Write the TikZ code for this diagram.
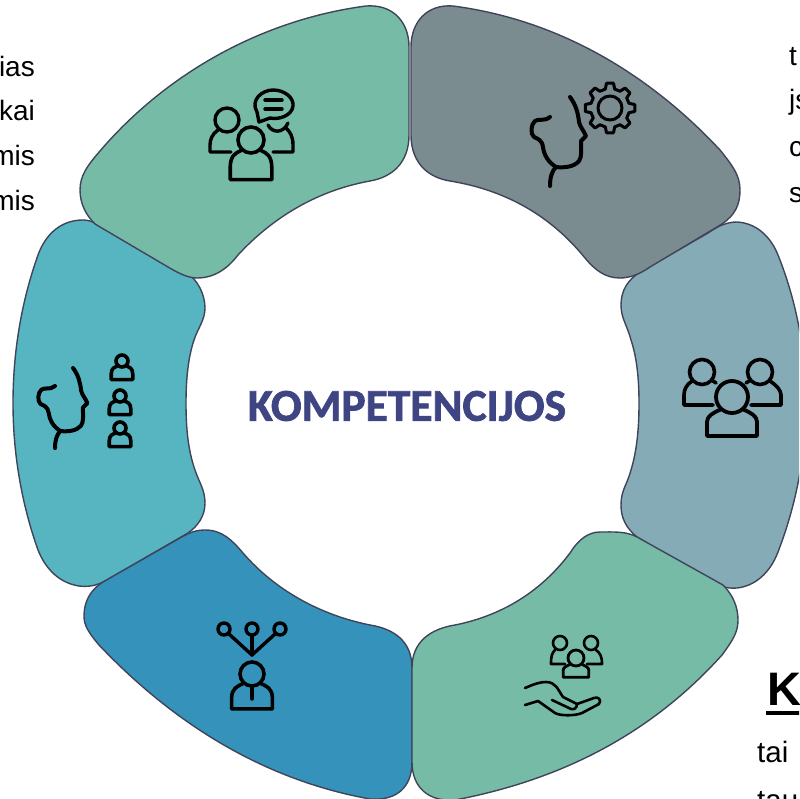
\documentclass[tikz,border=0pt]{standalone}
\usepackage{fontspec}
\setmainfont{Liberation Sans}
\newfontfamily\titlefont[BoldFeatures={FakeBold=1.6}]{Carlito}
\usepackage{tikz}
\definecolor{petalgreen}{HTML}{75BBA5}
\definecolor{petalgrey}{HTML}{7A8C90}
\definecolor{petalsteel}{HTML}{85ABB7}
\definecolor{petalblue}{HTML}{3592BA}
\definecolor{petalteal}{HTML}{57B4C1}
\definecolor{petaledge}{HTML}{40445A}
\definecolor{titleblue}{HTML}{3F4582}
\tikzset{
  petal/.style={draw=petaledge,line width=1.4pt,fill=#1},
  petal/.default=petalgreen,
  icon/.style={draw=black,line width=#1,line cap=round,line join=round},
  icon/.default=3.4pt,
  sidetext/.style={font=\fontsize{28}{28}\selectfont,inner sep=0pt,text=black},
}
% unit person: head of radius 1 at the origin, #4 half width, #5 depth of the bar
\newcommand{\personicon}[6]{
  \begin{scope}[shift={(#1,#2)},scale=#3]
    \draw[icon=#6] (0,0) circle (1);
    \draw[icon=#6] (-0.75,0.8) .. controls (-1.2,1) and (-#4,1.2) .. (-#4,#5-0.9) -- (-#4,#5) -- (#4,#5) -- (#4,#5-0.9) .. controls (#4,1.2) and (1.2,1) .. (0.75,0.8);
  \end{scope}
}
% profile of a head, drawn where the gear and the small people sit beside it
\newcommand{\headicon}[3]{
  \begin{scope}[shift={(#1,#2)},scale=#3]
    \draw[icon=4pt] (0,0) .. controls (6,8) and (8,16) .. (9,25) .. controls (10,30) and (14,34) .. (16,39) -- (11,44) .. controls (11,52) and (12,60) .. (9,64) .. controls (4,70) and (-6,71) .. (-14,70) .. controls (-22,65) and (-26,58) .. (-27,50) .. controls (-28,43) and (-32,42) .. (-36,40) .. controls (-40,37) and (-39,27) .. (-35,24) .. controls (-31,21) and (-26,25) .. (-20,20);
    \draw[icon=4pt] (-14,70) .. controls (-18,74) and (-20,80) .. (-20,89);
  \end{scope}
}

\begin{document}
\begin{tikzpicture}[x=1pt,y=-1pt]
  \useasboundingbox (0,0) rectangle (799,799);
  \clip (0,0) rectangle (799,799);

  % Side texts
  \node[sidetext,anchor=base east] (lefta) at (35,77) {ias};
  \node[sidetext,anchor=base east] (leftb) at (35,121) {kai};
  \node[sidetext,anchor=base east] (leftc) at (35,166) {mis};
  \node[sidetext,anchor=base east] (leftd) at (35,211) {mis};
  \node[sidetext,anchor=base west] (righta) at (789,66) {t};
  \node[sidetext,anchor=base west] (rightb) at (789,110) {js};
  \node[sidetext,anchor=base west] (rightc) at (789,157) {c};
  \node[sidetext,anchor=base west] (rightd) at (789,203) {s};
  \node[anchor=base west,inner sep=0pt,font=\fontsize{47}{47}\selectfont\bfseries] (kword) at (767,705) {K};
  \draw[line width=3.6pt] (kword.base west) ++(-1,8) -- ++(40,0);
  \node[sidetext,anchor=base west,font=\fontsize{29.5}{29.5}\selectfont] (taia) at (757,762) {tai};
  \node[sidetext,anchor=base west,font=\fontsize{29.5}{29.5}\selectfont] (taub) at (757,810) {tau};

  % Petals
  \draw[petal=petalteal] (83,220) .. controls (93,220) and (100,226) .. (110,231) -- (185,272) .. controls (198,279) and (205,295) .. (205,308) .. controls (205,320) and (198,328) .. (194,340) .. controls (188,358) and (186,380) .. (186,403) .. controls (186,428) and (188,450) .. (195,470) .. controls (199,482) and (205,490) .. (205,503) .. controls (205,516) and (198,526) .. (188,533) -- (105,581) .. controls (96,586) and (88,587) .. (79,586) .. controls (60,583) and (46,570) .. (38,550) .. controls (22,505) and (13,455) .. (13,403) .. controls (13,350) and (22,300) .. (38,255) .. controls (46,233) and (62,220) .. (83,220) -- cycle;
  \draw[petal=petalsteel] (737,222) .. controls (755,223) and (770,235) .. (778,255) .. controls (796,300) and (806,350) .. (806,403) .. controls (806,455) and (796,505) .. (778,552) .. controls (770,573) and (755,586) .. (737,588) .. controls (725,589) and (717,585) .. (710,581) -- (637,537) .. controls (626,528) and (621,518) .. (621,505) .. controls (621,490) and (627,485) .. (631,470) .. controls (637,450) and (639,428) .. (639,403) .. controls (639,380) and (637,358) .. (631,340) .. controls (627,325) and (621,318) .. (621,305) .. controls (621,290) and (628,280) .. (640,272) -- (708,233) .. controls (718,226) and (727,222) .. (737,222) -- cycle;
  \draw[petal=petalblue] (205,530) .. controls (222,530) and (232,540) .. (243,553) .. controls (275,590) and (320,615) .. (370,625) .. controls (395,629) and (412,642) .. (412,668) -- (412,762) .. controls (412,787) and (397,801) .. (370,799) .. controls (265,780) and (175,725) .. (99,645) .. controls (88,632) and (84,625) .. (84,616) .. controls (84,602) and (90,590) .. (103,582) -- (180,538) .. controls (190,532) and (197,530) .. (205,530) -- cycle;
  \draw[petal=petalgreen] (600,532) .. controls (613,532) and (626,531) .. (637,537) -- (723,585) .. controls (733,595) and (738,607) .. (738,620) .. controls (738,632) and (733,640) .. (722,655) .. controls (650,735) and (560,780) .. (455,800) .. controls (428,802) and (412,787) .. (412,762) -- (412,668) .. controls (412,642) and (430,629) .. (455,625) .. controls (500,616) and (540,593) .. (570,553) .. controls (578,540) and (588,532) .. (600,532) -- cycle;
  \draw[petal=petalgreen] (366,6) .. controls (393,4) and (409,22) .. (409,47) -- (409,135) .. controls (409,162) and (393,177) .. (370,181) .. controls (320,190) and (275,215) .. (238,255) .. controls (228,268) and (215,278) .. (197,278) .. controls (188,278) and (178,273) .. (168,267) -- (95,224) .. controls (87,216) and (80,205) .. (80,190) .. controls (80,175) and (88,165) .. (100,151) .. controls (165,75) and (260,20) .. (366,6) -- cycle;
  \draw[petal=petalgrey] (453,6) .. controls (560,20) and (650,75) .. (720,150) .. controls (732,165) and (740,175) .. (740,190) .. controls (740,205) and (735,215) .. (722,224) -- (650,267) .. controls (640,274) and (630,278) .. (620,278) .. controls (605,278) and (595,270) .. (585,258) .. controls (550,215) and (505,190) .. (450,181) .. controls (425,177) and (411,160) .. (411,135) -- (411,47) .. controls (411,22) and (427,4) .. (453,6) -- cycle;

  % Title
  \node[text=titleblue,font=\titlefont\fontsize{45.5}{45.5}\selectfont\bfseries,inner sep=0pt] (title) at (407,406) {KOMPETENCIJOS};

  % Icon, top left
  \draw[icon] (227,120) circle (12);
  \draw[icon] (218,130) .. controls (212,134) and (210,140) .. (210,145) -- (210,152) -- (231,152);
  \personicon{251}{140}{13}{1.6}{3.05}{3.6pt}
  \draw[icon] (268,125) .. controls (272,133) and (283,134) .. (288,123);
  \draw[icon] (286,128) .. controls (290,132) and (293,136) .. (293,145) -- (293,152) -- (273,152);
  \draw[icon] (259,122) -- (257,112) .. controls (250,100) and (262,90) .. (273,90) .. controls (285,90) and (294,98) .. (293,106) .. controls (292,116) and (278,120) .. (270,118) -- cycle;
  \draw[icon] (265,100) -- (282,100);
  \draw[icon] (265,109) -- (282,109);

  % Icon, top right
  \headicon{570}{97}{1}
  \begin{scope}[shift={(610,108)}]
    \draw[icon=3pt] (0,0) circle (12);
    \draw[icon=3pt] (-14:19.5) \foreach \a in {0,45,...,315} {
      -- (\a-14:19.5) -- (\a-8:25) -- (\a+8:25) -- (\a+14:19.5)
    } -- cycle;
  \end{scope}

  % Icon, left
  \headicon{73}{368}{0.9}
  \personicon{122}{361}{6}{1.8}{3.1}{3.6pt}
  \personicon{120}{396}{6}{1.8}{3.1}{3.6pt}
  \personicon{120}{428}{6}{1.8}{3.1}{3.6pt}

  % Icon, right
  \draw[icon=3.6pt] (702,372) circle (12.5);
  \draw[icon=3.6pt] (692,381) .. controls (686,385) and (684,390) .. (684,395) -- (684,405) -- (713,405);
  \draw[icon=3.6pt] (713,381) -- (716,383);
  \draw[icon=3.6pt] (760,372) circle (12.5);
  \draw[icon=3.6pt] (770,381) .. controls (776,385) and (781,390) .. (781,395) -- (781,405) -- (751,405);
  \draw[icon=3.6pt] (749,381) -- (746,383);
  \personicon{732}{397}{16}{1.56}{2.44}{3.8pt}

  % Icon, bottom left
  \draw[icon] (224,629) circle (6);
  \draw[icon] (252,629) circle (6);
  \draw[icon] (280,629) circle (6);
  \draw[icon] (229,634) -- (252,655) -- (275,634);
  \draw[icon] (252,636) -- (252,655);
  \personicon{252}{674}{12}{1.7}{2.9}{3.6pt}
  \draw[icon] (252,686) -- (252,699);

  % Icon, bottom right
  \draw[icon=2.6pt] (560,643) circle (7);
  \draw[icon=2.6pt] (555,650) .. controls (552,653) and (551,656) .. (551,664) -- (565,664);
  \draw[icon=2.6pt] (591,643) circle (7);
  \draw[icon=2.6pt] (596,650) .. controls (600,653) and (602,656) .. (602,664) -- (587,664);
  \personicon{576}{658}{8}{1.6}{2.4}{2.8pt}
  \draw[icon=2.6pt] (525,688) .. controls (530,686) and (538,682) .. (546,682) .. controls (556,682) and (558,690) .. (563,697) -- (577,704) .. controls (577,708) and (574,710) .. (571,709) -- (552,700);
  \draw[icon=2.6pt] (525,705) -- (538,701) -- (555,713) .. controls (560,716) and (575,716) .. (582,713) -- (599,704) .. controls (602,700) and (598,696) .. (594,698) -- (577,704);
\end{tikzpicture}
\end{document}
